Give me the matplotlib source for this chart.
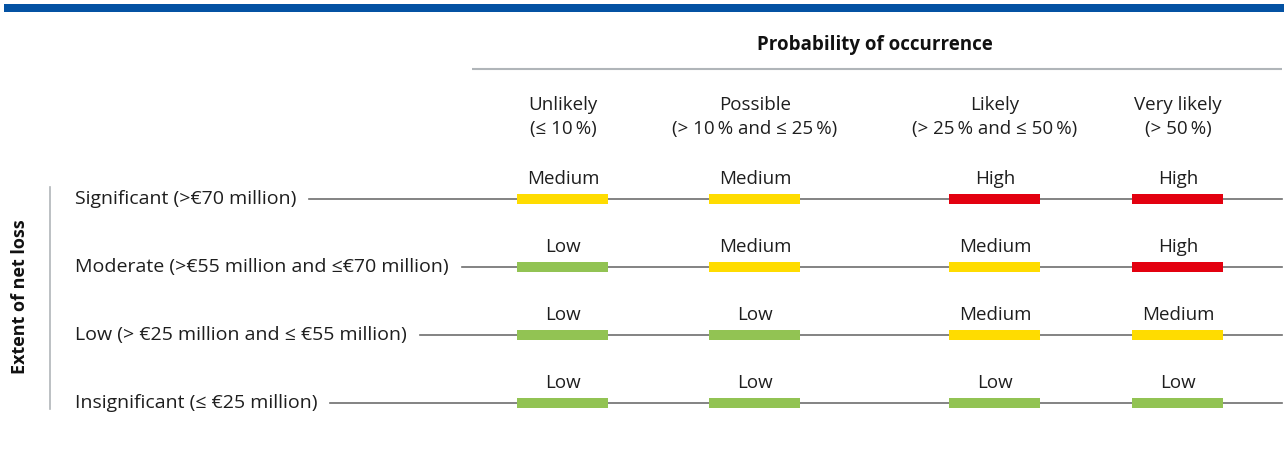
import matplotlib.pyplot as plt
import numpy as np

# risk matrix: rows = extent of net loss, cols = probability of occurrence
loss_labels = [
    "Significant (>€70 million)",
    "Moderate (>€55 million and ≤€70 million)",
    "Low (> €25 million and ≤ €55 million)",
    "Insignificant (≤ €25 million)",
]
prob_names = ["Unlikely", "Possible", "Likely", "Very likely"]
prob_ranges = ["(≤ 10\u2009%)", "(> 10\u2009% and ≤ 25\u2009%)",
               "(> 25\u2009% and ≤ 50\u2009%)", "(> 50\u2009%)"]
risk = [
    ["Medium", "Medium", "High", "High"],
    ["Low", "Medium", "Medium", "High"],
    ["Low", "Low", "Medium", "Medium"],
    ["Low", "Low", "Low", "Low"],
]
risk_colors = {"Low": "#92c353", "Medium": "#ffdc00", "High": "#e3000f"}

plt.rcParams['font.family'] = ['Open Sans', 'DejaVu Sans']

W, H = 1288, 452
fig = plt.figure(figsize=(W / 100, H / 100), dpi=100)
ax = fig.add_axes([0, 0, 1, 1])
ax.set_xlim(0, W)
ax.set_ylim(H, 0)
ax.axis("off")

# top blue band
ax.add_patch(plt.Rectangle((4, 5), W - 8, 8, color="#0452a3", lw=0))

col_x = np.array([563, 755, 995, 1178])
row_y = np.array([200, 268, 336, 404])
bar_w = 91
bar_h = 10
line_end = 1282
fs = 13.5
txt_col = "#1e1e1e"

ax.text(875, 45, "Probability of occurrence", ha="center", va="center",
        fontsize=13.5, fontweight="bold", color="#111111")
ax.plot([472, line_end], [70, 70], color="#b0b5b9", lw=1.5, solid_capstyle="butt")

for x, name, rng in zip(col_x, prob_names, prob_ranges):
    ax.text(x, 105, name, ha="center", va="center", fontsize=fs, color=txt_col)
    ax.text(x, 129, rng, ha="center", va="center", fontsize=fs, color=txt_col)

fig.canvas.draw()
renderer = fig.canvas.get_renderer()

for i, (y, lab) in enumerate(zip(row_y, loss_labels)):
    t = ax.text(75, y - 1, lab, ha="left", va="center", fontsize=14, color=txt_col)
    bb = t.get_window_extent(renderer)
    x0 = bb.x1 + 13
    ax.plot([x0, line_end], [y, y], color="#6e6e6e", lw=1.2, zorder=1)
    levels = risk[i]
    ax.barh(np.full(len(col_x), y), bar_w, left=col_x - bar_w / 2, height=bar_h,
            color=[risk_colors[l] for l in levels], zorder=2)
    for x, l in zip(col_x, levels):
        ax.text(x, y - 21, l, ha="center", va="center", fontsize=fs, color=txt_col)

# y-axis title and bracket line
ax.plot([50, 50], [188, 410], color="#b0b5b9", lw=1.2)
ax.text(20, 297, "Extent of net loss", rotation=90, ha="center", va="center",
        fontsize=13, fontweight="bold", color="#111111")

fig.savefig("out.png", dpi=100)
